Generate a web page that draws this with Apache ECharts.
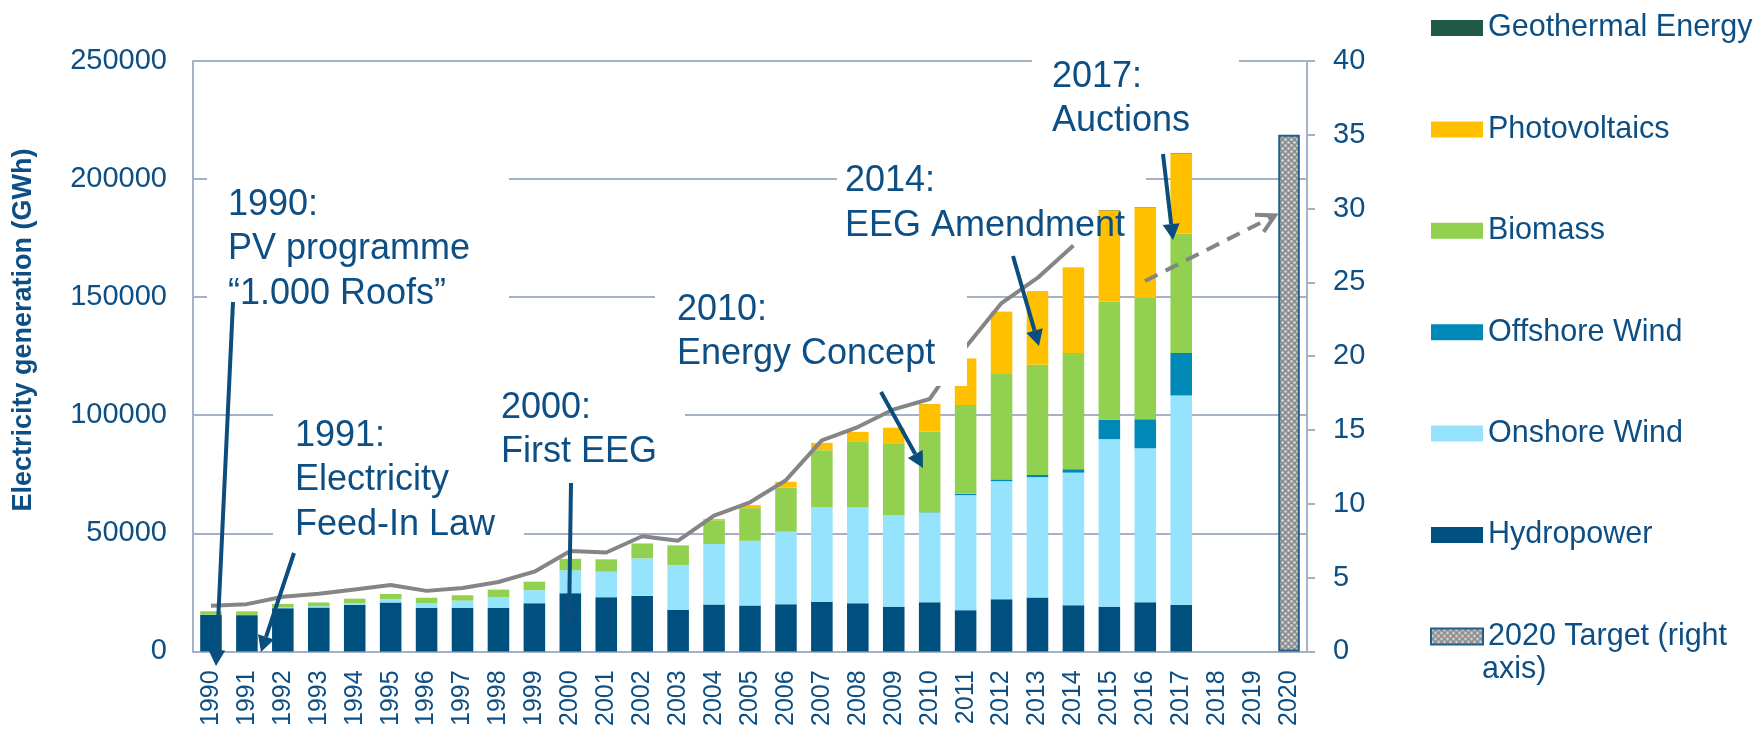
<!DOCTYPE html>
<html>
<head>
<meta charset="utf-8">
<script src="https://cdn.jsdelivr.net/npm/echarts@6/dist/echarts.min.js"></script>
<style>
html, body { margin: 0; padding: 0; background: #fff; }
#chart { width: 1762px; height: 729px; }
</style>
</head>
<body>
<div id="chart"></div>
<script>
// categories
const years = ['1990','1991','1992','1993','1994','1995','1996','1997','1998','1999',
  '2000','2001','2002','2003','2004','2005','2006','2007','2008','2009',
  '2010','2011','2012','2013','2014','2015','2016','2017','2018','2019','2020'];

// electricity generation in GWh (left axis)
const hydropower = [15500, 15350, 18300, 18600, 19700, 20700, 18450, 18450, 18450, 20400,
  24650, 22950, 23500, 17600, 19850, 19450, 20000, 21000, 20400, 18900,
  20850, 17450, 22100, 22800, 19500, 18900, 20800, 19600, null, null, null];
const onshoreWind = [70, 100, 280, 560, 700, 1500, 2000, 3050, 4500, 5500,
  9700, 10800, 15900, 18900, 25600, 27400, 30700, 40000, 40550, 38850,
  37900, 48700, 50000, 51000, 56200, 71000, 65200, 88800, null, null, null];
const offshoreWind = [0, 0, 0, 0, 0, 0, 0, 0, 0, 0,
  0, 0, 0, 0, 0, 0, 0, 0, 0, 40,
  170, 570, 720, 900, 1450, 8250, 12300, 17900, null, null, null];
const biomass = [1400, 1500, 1500, 1550, 1950, 2100, 2250, 2250, 3200, 3600,
  4800, 5200, 6200, 8200, 10100, 13800, 18700, 24200, 27750, 30300,
  34100, 37600, 44650, 46700, 49150, 49900, 51300, 50700, null, null, null];
const photovoltaics = [1, 2, 4, 3, 7, 7, 12, 18, 35, 30,
  60, 116, 188, 313, 556, 1282, 2400, 3100, 4200, 6600,
  11700, 19700, 26400, 31000, 36050, 38700, 38300, 33900, null, null, null];
const geothermal = [0, 0, 0, 0, 0, 0, 0, 0, 0, 0,
  0, 0, 0, 0, 0.2, 0.2, 0.4, 0.4, 18, 19,
  28, 19, 25, 80, 98, 134, 175, 163, null, null, null];

// share of renewables in % (right axis)
const renewableShare = [3.1, 3.2, 3.7, 3.9, 4.2, 4.5, 4.1, 4.3, 4.7, 5.4,
  6.8, 6.7, 7.8, 7.5, 9.2, 10.1, 11.6, 14.3, 15.2, 16.4,
  17.1, 20.6, 23.6, 25.3, 27.5, null, null, null, null, null, null];
const target2020 = [null, null, null, null, null, null, null, null, null, null,
  null, null, null, null, null, null, null, null, null, null,
  null, null, null, null, null, null, null, null, null, null, 35];

const leftTicks = { min: 0, max: 250000, interval: 50000 };
const rightTicks = { min: 0, max: 40, interval: 5 };

const TXT = '#0d4f84';
const AXIS = '#a5b1c6';
const ARROW = '#0b4d7c';
const FONT = '"Liberation Sans", Arial, sans-serif';

// grey hatched fill for the target bar
function hatch() {
  const c = document.createElement('canvas');
  c.width = 6; c.height = 6;
  const g = c.getContext('2d');
  g.fillStyle = '#8f8f8f';
  g.fillRect(0, 0, 6, 6);
  g.fillStyle = '#dcdcdc';
  g.beginPath(); g.arc(1.5, 1.5, 1.3, 0, Math.PI * 2); g.fill();
  g.beginPath(); g.arc(4.5, 4.5, 1.3, 0, Math.PI * 2); g.fill();
  return c;
}

function stackBar(name, data, color) {
  return {
    name: name, type: 'bar', stack: 'gen', data: data,
    barCategoryGap: '40%', barGap: '-100%',
    itemStyle: { color: color }
  };
}

// annotation: white box (x, y, w, h) and the text placed at (tx, ty)
function note(text, box, tx, ty) {
  return [
    { type: 'rect', z: 100, shape: { x: box[0], y: box[1], width: box[2], height: box[3] },
      style: { fill: '#fff' } },
    { type: 'text', z: 101, x: tx, y: ty,
      style: { text: text, fill: TXT, font: '36px ' + FONT, lineHeight: 44.5,
        align: 'left', verticalAlign: 'top' } }
  ];
}

// arrow with filled head
function arrow(x1, y1, x2, y2) {
  const dx = x2 - x1, dy = y2 - y1, len = Math.sqrt(dx * dx + dy * dy);
  const ux = dx / len, uy = dy / len, L = 16, W = 8.5;
  const bx = x2 - ux * L, by = y2 - uy * L;
  return [
    { type: 'line', z: 110, shape: { x1: x1, y1: y1, x2: bx, y2: by },
      style: { stroke: ARROW, lineWidth: 4 } },
    { type: 'polygon', z: 110,
      shape: { points: [[x2, y2], [bx - uy * W, by + ux * W], [bx + uy * W, by - ux * W]] },
      style: { fill: ARROW } }
  ];
}

function dashedArrow(x1, y1, x2, y2) {
  const a = Math.atan2(y2 - y1, x2 - x1), L = 20, s = 0.5;
  return [
    { type: 'line', z: 110, shape: { x1: x1, y1: y1, x2: x2, y2: y2 },
      style: { stroke: '#858585', lineWidth: 4, lineDash: [14, 9] } },
    { type: 'polyline', z: 110,
      shape: { points: [
        [x2 - L * Math.cos(a - s), y2 - L * Math.sin(a - s)], [x2, y2],
        [x2 - L * Math.cos(a + s), y2 - L * Math.sin(a + s)]] },
      style: { stroke: '#858585', lineWidth: 4, fill: null } }
  ];
}

const chart = echarts.init(document.getElementById('chart'));
const option = {
  animation: false,
  textStyle: { fontFamily: FONT },
  grid: { left: 193, right: 455, top: 61, bottom: 76, containLabel: false },
  legend: {
    orient: 'vertical', left: 1425, top: 5,
    itemWidth: 52, itemHeight: 16, itemGap: 65.4, icon: 'rect',
    selectedMode: false,
    data: ['Geothermal Energy', 'Photovoltaics', 'Biomass', 'Offshore Wind',
      'Onshore Wind', 'Hydropower', '2020 Target (right axis)'],
    formatter: function (n) { return n === '2020 Target (right axis)' ? '2020 Target (right' : n; },
    textStyle: { fontSize: 30.5, color: TXT, fontFamily: FONT, lineHeight: 36 }
  },
  xAxis: {
    type: 'category', data: years,
    axisLine: { lineStyle: { color: AXIS, width: 2 } },
    axisTick: { show: false },
    axisLabel: { rotate: 90, interval: 0, fontSize: 25, color: TXT, margin: 19 }
  },
  yAxis: [
    {
      type: 'value', position: 'left',
      min: leftTicks.min, max: leftTicks.max, interval: leftTicks.interval,
      axisLine: { show: true, lineStyle: { color: AXIS, width: 2 } },
      axisTick: { show: false },
      splitLine: { lineStyle: { color: AXIS, width: 2 } },
      axisLabel: { fontSize: 29, color: TXT, margin: 26, formatter: function (v) { return String(v); } }
    },
    {
      type: 'value', position: 'right',
      min: rightTicks.min, max: rightTicks.max, interval: rightTicks.interval,
      axisLine: { show: true, lineStyle: { color: AXIS, width: 2 } },
      axisTick: { show: true, length: 8, lineStyle: { color: AXIS, width: 2 } },
      splitLine: { show: false },
      axisLabel: { fontSize: 29, color: TXT, margin: 26 }
    }
  ],
  series: [
    stackBar('Hydropower', hydropower, '#00507f'),
    stackBar('Onshore Wind', onshoreWind, '#95e3fd'),
    stackBar('Offshore Wind', offshoreWind, '#0089b7'),
    stackBar('Biomass', biomass, '#92d050'),
    stackBar('Photovoltaics', photovoltaics, '#ffc000'),
    stackBar('Geothermal Energy', geothermal, '#215a47'),
    {
      name: '2020 Target (right axis)', type: 'bar', yAxisIndex: 1, data: target2020,
      barCategoryGap: '40%', barGap: '-100%',
      itemStyle: { color: { image: hatch(), repeat: 'repeat' }, borderColor: '#1f5f8b', borderWidth: 2 }
    },
    {
      name: 'Share', type: 'line', yAxisIndex: 1, data: renewableShare,
      symbol: 'none', z: 5,
      lineStyle: { color: '#858585', width: 4 }
    }
  ],
  graphic: [
    { type: 'text', x: 24, y: 330, rotation: Math.PI / 2,
      style: { text: 'Electricity generation (GWh)', fill: TXT, font: 'bold 27px ' + FONT,
        align: 'center', verticalAlign: 'middle' } },
    { type: 'text', x: 1482, y: 670,
      style: { text: 'axis)', fill: TXT, font: '30.5px ' + FONT, verticalAlign: 'middle' } }
  ]
    .concat(note('1990:\nPV programme\n\u201c1.000 Roofs\u201d', [207, 172, 302, 150], 228, 182.7))
    .concat(note('1991:\nElectricity\nFeed-In Law', [273, 405, 251, 146], 295, 413.7))
    .concat(note('2000:\nFirst EEG', [481, 377, 204, 101], 501, 385.7))
    .concat(note('2010:\nEnergy Concept', [655, 279, 312, 107], 677, 287.7))
    .concat(note('2014:\nEEG Amendment', [837, 151, 309, 54], 845, 159.3))
    .concat(note('2017:\nAuctions', [1032, 46, 207, 102], 1052, 54.8))
    .concat(arrow(233, 302, 216, 666))
    .concat(arrow(294, 553, 261, 652))
    .concat(arrow(571, 483, 569, 625))
    .concat(arrow(881, 392, 923, 468))
    .concat(arrow(1013, 256, 1039, 346))
    .concat(arrow(1163, 154, 1173, 240))
    .concat(dashedArrow(1145, 281, 1275, 215.5))
};
chart.setOption(option);
</script>
</body>
</html>
